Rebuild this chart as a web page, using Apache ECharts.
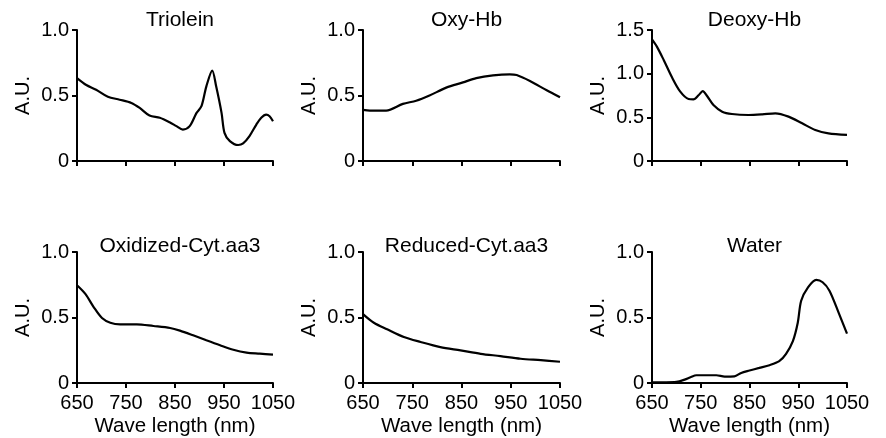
<!DOCTYPE html>
<html><head><meta charset="utf-8">
<script src="https://cdn.jsdelivr.net/npm/echarts@6/dist/echarts.min.js"></script>
<style>html,body{margin:0;padding:0;background:#fff}#c{width:886px;height:438px}</style>
</head><body><div id="c"></div>
<script>
const titles = ["Triolein","Oxy-Hb","Deoxy-Hb","Oxidized-Cyt.aa3","Reduced-Cyt.aa3","Water"];
const xTicks = [650,750,850,950,1050];
const yMax = [1.0,1.0,1.5,1.0,1.0,1.0];
const triolein = [[650,0.633],[669,0.58],[689,0.544],[713,0.49],[737,0.468],[761,0.443],[778,0.405],[798,0.347],[819,0.33],[839,0.296],[853,0.266],[866,0.24],[880,0.266],[894,0.367],[904,0.418],[914,0.57],[926,0.69],[934,0.57],[945,0.367],[951,0.215],[962,0.152],[979,0.122],[989,0.134],[1002,0.19],[1016,0.278],[1026,0.33],[1036,0.354],[1043,0.342],[1050,0.304]];
const oxyHb = [[650,0.39],[664,0.385],[697,0.385],[731,0.436],[758,0.46],[785,0.5],[819,0.56],[853,0.6],[880,0.633],[914,0.654],[948,0.662],[962,0.656],[989,0.61],[1023,0.54],[1050,0.487]];
const deoxyHb = [[650,1.393],[660,1.31],[674,1.157],[691,0.958],[708,0.794],[725,0.71],[735,0.706],[746,0.756],[754,0.8],[763,0.744],[776,0.641],[794,0.565],[814,0.538],[848,0.527],[876,0.534],[903,0.546],[930,0.508],[958,0.431],[985,0.355],[1012,0.317],[1050,0.3]];
const oxCyt = [[650,0.746],[667,0.68],[684,0.58],[701,0.496],[718,0.46],[738,0.448],[772,0.448],[806,0.435],[840,0.42],[860,0.4],[887,0.364],[914,0.326],[942,0.288],[969,0.254],[996,0.232],[1023,0.224],[1050,0.216]];
const redCyt = [[650,0.526],[672,0.46],[699,0.41],[733,0.351],[767,0.313],[807,0.274],[848,0.249],[889,0.223],[929,0.205],[970,0.185],[1011,0.174],[1050,0.162]];
const water = [[650,0.005],[679,0.005],[700,0.008],[717,0.026],[730,0.046],[741,0.059],[761,0.059],[782,0.059],[799,0.049],[819,0.051],[833,0.077],[850,0.095],[870,0.115],[891,0.136],[911,0.167],[925,0.223],[939,0.32],[949,0.46],[956,0.628],[970,0.73],[987,0.787],[1000,0.769],[1014,0.705],[1034,0.526],[1050,0.377]];
const seriesData = [triolein, oxyHb, deoxyHb, oxCyt, redCyt, water];

const FONT = 'Liberation Sans, Arial, sans-serif';
const lefts = [77, 363, 652];
const widths = [196, 197, 195];
const tops = [30, 252];
const H = 131;
const grid=[], xAxis=[], yAxis=[], series=[], title=[];
for (let i=0;i<6;i++){
  const r = Math.floor(i/3), c = i%3;
  grid.push({left:lefts[c], top:tops[r], width:widths[c], height:H});
  const bottom = r===1;
  xAxis.push({type:'value', gridIndex:i, min:650, max:1050, interval:100,
    axisLine:{lineStyle:{color:'#000',width:2}},
    axisTick:{show:true, inside:false, length:5, lineStyle:{color:'#000',width:2}},
    splitLine:{show:false},
    axisLabel:{show:bottom, color:'#000', fontFamily:FONT, fontSize:20, margin:10, formatter:v=>String(v)},
    name: bottom ? 'Wave length (nm)' : '', nameLocation:'middle', nameGap:33,
    nameTextStyle:{color:'#000', fontFamily:FONT, fontSize:20.5}
  });
  yAxis.push({type:'value', gridIndex:i, min:0, max:yMax[i], interval:0.5,
    axisLine:{show:true, lineStyle:{color:'#000',width:2}},
    axisTick:{show:true, inside:false, length:5, lineStyle:{color:'#000',width:2}},
    splitLine:{show:false},
    axisLabel:{color:'#000', fontFamily:FONT, fontSize:20, margin:8, formatter:v=> v===0 ? '0' : v.toFixed(1)},
    name:'A.U.', nameLocation:'middle', nameGap:44, nameRotate:90,
    nameTextStyle:{color:'#000', fontFamily:FONT, fontSize:20}
  });
  series.push({type:'line', xAxisIndex:i, yAxisIndex:i, data:seriesData[i], showSymbol:false, smooth:0.3,
    lineStyle:{color:'#000', width:2.2}, silent:true});
  title.push({text:titles[i], left: lefts[c]+widths[c]/2, textAlign:'center', top: r===0 ? 5 : 231,
    textStyle:{color:'#000', fontFamily:FONT, fontSize:21, fontWeight:'normal'}});
}
const chart = echarts.init(document.getElementById('c'), null, {renderer:'canvas'});
chart.setOption({animation:false, backgroundColor:'#fff', title, grid, xAxis, yAxis, series});
</script></body></html>
